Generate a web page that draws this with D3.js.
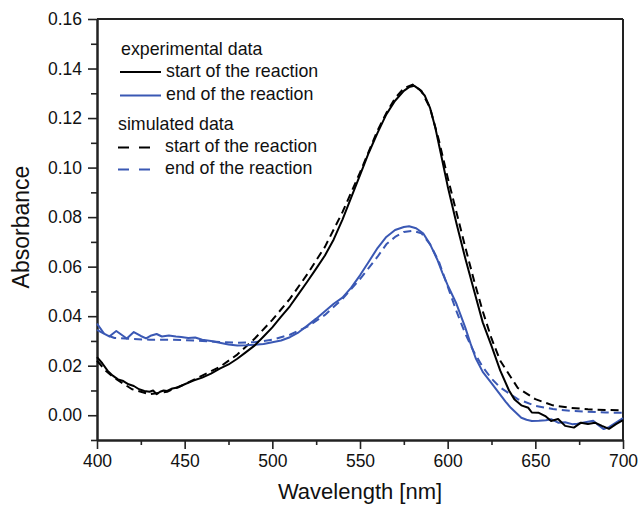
<!DOCTYPE html>
<html>
<head>
<meta charset="utf-8">
<script src="https://cdn.jsdelivr.net/npm/d3@7"></script>
<style>
  body { margin: 0; background: #fff; }
  text { font-family: "Liberation Sans", Arial, sans-serif; fill: #111; }
</style>
</head>
<body>
<div class="chart"></div>
<script>
// experimental spectrum, start of the reaction
var expStartWl = [400, 403, 406, 409, 412, 415, 418, 421, 424, 427, 430, 432, 434, 436, 438, 440, 443, 446, 450, 455,
  460, 465, 470, 475, 480, 485, 490, 495, 500, 505, 510, 515, 520, 525, 530, 535, 540, 545, 550, 555,
  560, 565, 570, 575, 578, 581, 584, 587, 590, 593, 596, 600, 605, 610, 615, 620, 625, 630, 635, 638,
  642, 646, 648, 652, 656, 659, 663, 667, 672, 676, 680, 684, 688, 692, 696, 700];
var expStartAbs = [0.0235, 0.0210, 0.0180, 0.0160, 0.0145, 0.0138, 0.0125, 0.0118, 0.0105, 0.0098, 0.0095, 0.0100, 0.0085, 0.0095, 0.0100, 0.0098, 0.0108, 0.0112, 0.0125, 0.0140,
  0.0152, 0.0168, 0.0188, 0.0205, 0.0228, 0.0255, 0.0282, 0.0318, 0.0355, 0.0398, 0.0440, 0.0490, 0.0540, 0.0592, 0.0645, 0.0710, 0.0790, 0.0880, 0.0970, 0.1060,
  0.1140, 0.1215, 0.1270, 0.1310, 0.1325, 0.1330, 0.1315, 0.1290, 0.1240, 0.1160, 0.1060, 0.0925, 0.0775, 0.0635, 0.0505, 0.0375, 0.0280, 0.0180, 0.0100, 0.0065,
  0.0040, 0.0030, 0.0011, 0.0010, -0.0005, -0.0023, -0.0015, -0.0043, -0.0050, -0.0030, -0.0035, -0.0030, -0.0043, -0.0055, -0.0036, -0.0020];

// experimental spectrum, end of the reaction
var expEndWl = [400, 404, 407, 411, 414, 417, 421, 425, 428, 431, 434, 437, 441, 445, 448, 452, 456, 460, 465, 470,
  475, 480, 485, 490, 495, 500, 505, 510, 515, 520, 525, 530, 535, 540, 545, 550, 555, 560, 565, 570,
  575, 578, 582, 586, 590, 594, 597, 600, 605, 610, 613, 616, 620, 625, 629, 633, 636, 639, 642, 645,
  648, 652, 656, 659, 663, 667, 671, 674, 677, 680, 683, 686, 689, 692, 696, 700];
var expEndAbs = [0.0370, 0.0330, 0.0318, 0.0340, 0.0325, 0.0310, 0.0336, 0.0320, 0.0310, 0.0322, 0.0328, 0.0318, 0.0322, 0.0318, 0.0316, 0.0312, 0.0314, 0.0305, 0.0300, 0.0293,
  0.0286, 0.0282, 0.0283, 0.0285, 0.0288, 0.0295, 0.0302, 0.0315, 0.0335, 0.0362, 0.0390, 0.0420, 0.0450, 0.0475, 0.0515, 0.0565, 0.0620, 0.0675, 0.0720, 0.0748,
  0.0760, 0.0763, 0.0755, 0.0735, 0.0690, 0.0630, 0.0575, 0.0525, 0.0450, 0.0355, 0.0290, 0.0230, 0.0175, 0.0130, 0.0092, 0.0055, 0.0030, 0.0010, -0.0010, -0.0018,
  -0.0023, -0.0022, -0.0020, -0.0016, -0.0030, -0.0028, -0.0036, -0.0034, -0.0030, -0.0026, -0.0022, -0.0040, -0.0056, -0.0048, -0.0030, -0.0012];

// simulated spectra (same wavelength grid)
var simWl = [400, 405, 410, 420, 430, 440, 450, 460, 470, 480, 490, 500, 510, 520, 530, 540, 550, 560, 565, 570,
  575, 580, 585, 590, 595, 600, 605, 610, 615, 620, 625, 630, 640, 650, 660, 670, 680, 690, 700];
var simStartAbs = [0.0220, 0.0180, 0.0150, 0.0105, 0.0085, 0.0095, 0.0125, 0.0160, 0.0195, 0.0245, 0.0310, 0.0385, 0.0470, 0.0570, 0.0680, 0.0820, 0.0980, 0.1150, 0.1220, 0.1280,
  0.1320, 0.1335, 0.1310, 0.1240, 0.1110, 0.0960, 0.0820, 0.0680, 0.0545, 0.0420, 0.0310, 0.0220, 0.0110, 0.0065, 0.0040, 0.0030, 0.0024, 0.0021, 0.0020];
var simEndAbs = [0.0345, 0.0325, 0.0312, 0.0308, 0.0305, 0.0305, 0.0303, 0.0300, 0.0296, 0.0293, 0.0295, 0.0305, 0.0325, 0.0358, 0.0405, 0.0470, 0.0550, 0.0640, 0.0690, 0.0720,
  0.0740, 0.0745, 0.0735, 0.0690, 0.0620, 0.0520, 0.0420, 0.0330, 0.0255, 0.0195, 0.0148, 0.0112, 0.0065, 0.0038, 0.0025, 0.0018, 0.0014, 0.0011, 0.0010];

var xTicks = [400, 450, 500, 550, 600, 650, 700];
var xMinorTicks = [425, 475, 525, 575, 625, 675];
var yTicks = [0.00, 0.02, 0.04, 0.06, 0.08, 0.10, 0.12, 0.14, 0.16];
var yMinorTicks = [-0.01, 0.01, 0.03, 0.05, 0.07, 0.09, 0.11, 0.13, 0.15];

var blue = "#3a58b4";

var svgWidth = 640;
var svgHeight = 508;
var margin = { top: 19, right: 17, bottom: 68, left: 97 };
var width = svgWidth - margin.left - margin.right;
var height = svgHeight - margin.top - margin.bottom;

var svg = d3.select(".chart")
  .append("svg")
  .attr("width", svgWidth)
  .attr("height", svgHeight);

var chartGroup = svg.append("g")
  .attr("transform", `translate(${margin.left}, ${margin.top})`);

var xScale = d3.scaleLinear().domain([400, 700]).range([0, width]);
var yScale = d3.scaleLinear().domain([-0.01, 0.16]).range([height, 0]);

// axes: major ticks with labels, minor ticks without
var bottomAxis = d3.axisBottom(xScale).tickValues(xTicks).tickSize(9).tickSizeOuter(0).tickPadding(6);
var bottomMinor = d3.axisBottom(xScale).tickValues(xMinorTicks).tickSize(5).tickSizeOuter(0).tickFormat("");
var leftAxis = d3.axisLeft(yScale).tickValues(yTicks).tickSize(9).tickSizeOuter(0).tickPadding(6).tickFormat(d3.format(".2f"));
var leftMinor = d3.axisLeft(yScale).tickValues(yMinorTicks).tickSize(6).tickSizeOuter(0).tickFormat("");

function styleAxis(g) {
  g.selectAll("path").attr("stroke", "#222").attr("stroke-width", 2);
  g.selectAll("line").attr("stroke", "#222").attr("stroke-width", 1.6);
  g.selectAll("text").attr("font-size", "17.5px").attr("font-family", "Liberation Sans, Arial, sans-serif").attr("fill", "#111");
}

chartGroup.append("g").attr("transform", `translate(0, ${height})`).call(bottomMinor).call(styleAxis);
chartGroup.append("g").attr("transform", `translate(0, ${height})`).call(bottomAxis).call(styleAxis);
chartGroup.append("g").call(leftMinor).call(styleAxis);
chartGroup.append("g").call(leftAxis).call(styleAxis);

// top and right frame
chartGroup.append("line").attr("x1", 0).attr("x2", width).attr("y1", 0).attr("y2", 0)
  .attr("stroke", "#222").attr("stroke-width", 2);
chartGroup.append("line").attr("x1", width).attr("x2", width).attr("y1", 0).attr("y2", height)
  .attr("stroke", "#222").attr("stroke-width", 2);

// curves
var line = d3.line()
  .x(d => xScale(d[0]))
  .y(d => yScale(d[1]));

var series = [
  { wl: simWl, abs: simEndAbs, color: blue, dash: "8,5" },
  { wl: simWl, abs: simStartAbs, color: "#000", dash: "8,5" },
  { wl: expEndWl, abs: expEndAbs, color: blue, dash: null },
  { wl: expStartWl, abs: expStartAbs, color: "#000", dash: null }
];

series.forEach(function(s) {
  chartGroup.append("path")
    .attr("d", line(d3.zip(s.wl, s.abs)))
    .attr("fill", "none")
    .attr("stroke", s.color)
    .attr("stroke-width", 2)
    .attr("stroke-linejoin", "round")
    .attr("stroke-dasharray", s.dash);
});

// legend
var legend = svg.append("g").attr("font-size", "17.8px");

legend.append("text").attr("x", 121).attr("y", 55).text("experimental data");
legend.append("line").attr("x1", 120).attr("x2", 161).attr("y1", 72).attr("y2", 72)
  .attr("stroke", "#000").attr("stroke-width", 2);
legend.append("text").attr("x", 166).attr("y", 77).text("start of the reaction");
legend.append("line").attr("x1", 120).attr("x2", 161).attr("y1", 95.5).attr("y2", 95.5)
  .attr("stroke", blue).attr("stroke-width", 2);
legend.append("text").attr("x", 166).attr("y", 100).text("end of the reaction");

legend.append("text").attr("x", 118).attr("y", 130).text("simulated data");
legend.append("line").attr("x1", 118).attr("x2", 151).attr("y1", 147.5).attr("y2", 147.5)
  .attr("stroke", "#000").attr("stroke-width", 2).attr("stroke-dasharray", "11,10");
legend.append("text").attr("x", 165).attr("y", 152).text("start of the reaction");
legend.append("line").attr("x1", 118).attr("x2", 151).attr("y1", 169.5).attr("y2", 169.5)
  .attr("stroke", blue).attr("stroke-width", 2).attr("stroke-dasharray", "11,10");
legend.append("text").attr("x", 165).attr("y", 174).text("end of the reaction");

// axis titles
svg.append("text")
  .attr("transform", `translate(${margin.left + width / 2}, 499)`)
  .attr("text-anchor", "middle")
  .attr("font-size", "22px")
  .text("Wavelength [nm]");

svg.append("text")
  .attr("transform", `translate(29, 227) rotate(-90)`)
  .attr("text-anchor", "middle")
  .attr("font-size", "23px")
  .text("Absorbance");
</script>
</body>
</html>
